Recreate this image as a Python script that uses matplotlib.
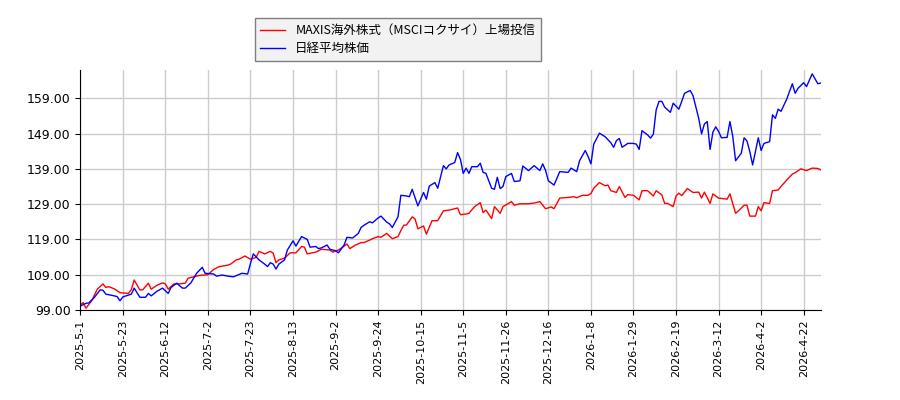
import matplotlib
matplotlib.use("Agg")
import matplotlib.pyplot as plt

plt.rcParams['font.family'] = ['Noto Sans CJK JP', 'DejaVu Sans']

# trading-day index on x
tick_labels = ["2025-5-1", "2025-5-23", "2025-6-12", "2025-7-2", "2025-7-23",
               "2025-8-13", "2025-9-2", "2025-9-24", "2025-10-15", "2025-11-5",
               "2025-11-26", "2025-12-16", "2026-1-8", "2026-1-29", "2026-2-19",
               "2026-3-12", "2026-4-2", "2026-4-22"]
tick_step = 15
yticks = [99, 109, 119, 129, 139, 149, 159]

maxis_x = [0, 1, 2, 4, 6, 8, 9, 10, 12, 14, 17, 18, 19, 21, 22, 24, 25, 27, 29, 30,
           31, 33, 35, 37, 38, 40, 42, 45, 47, 49, 52, 53, 55, 56, 58, 60, 62, 63, 65, 67,
           68, 69, 70, 72, 74, 76, 78, 79, 80, 83, 85, 88, 89, 91, 93, 94, 95, 97, 99, 100,
           102, 103, 105, 106, 108, 110, 112, 113, 114, 115, 117, 118, 119, 121, 122, 124, 126, 128, 130, 133,
           134, 136, 137, 139, 141, 142, 143, 145, 146, 148, 149, 152, 153, 155, 158, 160, 162, 164, 166, 167,
           169, 172, 174, 175, 177, 179, 180, 181, 183, 185, 186, 187, 189, 190, 192, 193, 195, 197, 198, 200,
           202, 203, 205, 206, 207, 209, 210, 211, 212, 214, 216, 218, 219, 220, 222, 223, 225, 228, 229, 231,
           232, 234, 235, 236, 238, 239, 240, 241, 243, 244, 246, 247, 249, 251, 252, 254, 256, 258, 260, 261]
maxis_y = [100.4, 101.1, 99.5, 101.6, 104.9, 106.4, 105.4, 105.6, 105.0, 103.9,
           103.7, 104.8, 107.5, 104.7, 104.7, 106.6, 104.9, 106.0, 106.7, 106.4,
           104.9, 106.4, 106.4, 106.6, 108.0, 108.4, 108.8, 109.0, 110.5, 111.3,
           111.7, 112.0, 113.2, 113.4, 114.3, 113.4, 113.9, 115.6, 114.9, 115.6,
           115.1, 112.4, 113.2, 113.7, 115.2, 115.2, 117.0, 116.8, 114.9, 115.4,
           116.2, 116.0, 115.4, 116.0, 117.1, 117.7, 116.4, 117.4, 118.1, 118.1,
           118.8, 119.2, 119.8, 119.6, 120.7, 119.2, 119.8, 121.5, 123.0, 123.1,
           125.4, 124.8, 122.0, 122.8, 120.5, 124.3, 124.3, 127.1, 127.3, 127.9,
           126.0, 126.2, 126.4, 128.3, 129.4, 126.6, 127.3, 124.9, 128.3, 126.4,
           128.3, 129.7, 128.7, 129.1, 129.1, 129.3, 129.7, 127.7, 128.2, 127.7,
           130.7, 130.9, 131.1, 130.8, 131.5, 131.5, 132.0, 133.5, 135.1, 134.2,
           134.4, 132.8, 132.3, 134.0, 130.9, 131.7, 131.5, 130.2, 132.8, 132.8,
           131.3, 132.8, 131.6, 129.2, 129.2, 128.3, 131.3, 132.1, 131.4, 133.4,
           132.3, 132.4, 130.7, 132.4, 129.2, 131.9, 130.7, 130.4, 131.9, 126.4,
           127.1, 128.7, 128.7, 125.6, 125.6, 128.3, 127.1, 129.4, 129.2, 132.8,
           133.0, 134.0, 135.8, 137.5, 137.9, 139.0, 138.5, 139.2, 139.1, 138.7]

nikkei_x = [0, 2, 3, 5, 7, 8, 9, 12, 13, 14, 15, 18, 19, 21, 23, 24, 25, 27, 29, 31,
            32, 34, 36, 37, 39, 41, 43, 44, 47, 48, 50, 52, 54, 57, 59, 60, 61, 63, 65, 66,
            67, 68, 69, 70, 72, 73, 75, 76, 78, 80, 81, 83, 84, 85, 87, 88, 90, 91, 93, 94,
            96, 98, 99, 100, 102, 103, 105, 106, 108, 109, 110, 112, 113, 115, 116, 117, 119, 121, 122, 123,
            125, 126, 128, 129, 130, 132, 133, 134, 135, 136, 137, 138, 140, 141, 142, 143, 145, 146, 147, 148,
            149, 150, 152, 153, 155, 156, 158, 160, 162, 163, 164, 165, 167, 169, 172, 173, 175, 176, 178, 179,
            180, 181, 183, 185, 187, 188, 189, 190, 191, 193, 195, 196, 197, 198, 200, 201, 202, 203, 204, 205,
            206, 208, 209, 211, 212, 213, 215, 216, 218, 219, 220, 221, 222, 223, 224, 225, 226, 228, 229, 230,
            231, 233, 234, 235, 236, 237, 239, 240, 241, 243, 244, 245, 246, 247, 249, 251, 252, 253, 255, 256,
            258, 260, 261]
nikkei_y = [100.1, 100.9, 101.0, 102.6, 104.7, 104.6, 103.5, 103.0, 102.8, 101.6,
            102.7, 103.5, 105.2, 102.6, 102.6, 103.7, 103.0, 104.3, 105.2, 103.7,
            105.4, 106.6, 105.2, 105.2, 106.7, 109.4, 111.1, 109.4, 109.2, 108.6,
            108.9, 108.6, 108.4, 109.4, 109.2, 112.2, 114.9, 113.2, 112.0, 111.3,
            112.4, 112.0, 110.6, 112.0, 113.2, 116.0, 118.6, 117.1, 119.8, 119.0,
            116.8, 117.0, 116.4, 116.6, 117.4, 116.2, 115.8, 115.2, 117.4, 119.6,
            119.4, 120.7, 122.4, 123.0, 124.0, 123.7, 125.1, 125.6, 123.9, 123.4,
            122.4, 125.4, 131.5, 131.3, 131.1, 133.2, 128.5, 132.3, 130.4, 134.1,
            135.1, 133.5, 139.9, 139.0, 140.1, 140.8, 143.6, 141.7, 137.7, 139.2,
            137.7, 139.6, 139.6, 140.6, 138.0, 137.7, 133.5, 133.2, 136.6, 133.4,
            134.0, 136.8, 137.7, 135.4, 135.6, 139.8, 138.5, 139.9, 138.5, 140.4,
            138.6, 135.6, 134.4, 138.2, 138.0, 139.2, 138.2, 141.3, 144.2, 142.5,
            140.4, 146.0, 149.1, 148.1, 146.4, 145.1, 147.0, 147.6, 145.1, 146.2,
            146.2, 146.0, 144.5, 149.8, 148.6, 147.7, 148.8, 155.7, 158.1, 158.1,
            156.5, 155.0, 157.6, 155.9, 158.1, 160.4, 161.2, 159.7, 153.3, 148.9,
            151.7, 152.4, 144.5, 149.4, 150.9, 149.6, 147.8, 147.9, 152.4, 148.2,
            141.3, 143.4, 147.8, 146.9, 143.9, 140.1, 147.8, 144.2, 146.2, 146.7,
            154.3, 153.3, 155.9, 155.3, 158.7, 163.1, 160.4, 161.8, 163.4, 162.3,
            165.9, 163.1, 163.3]

fig = plt.figure(figsize=(9, 4), dpi=100)
ax = fig.add_axes([0.0892, 0.225, 0.8227, 0.6])

ax.plot(maxis_x, maxis_y, color='red', lw=1, label='MAXIS海外株式（MSCIコクサイ）上場投信')
ax.plot(nikkei_x, nikkei_y, color='blue', lw=1, label='日経平均株価')

ax.set_xlim(0, 261)
ax.set_ylim(99, 167)
ax.set_xticks([i * tick_step for i in range(len(tick_labels))])
ax.set_xticklabels(tick_labels, rotation=90, fontsize=8, family='DejaVu Sans')
ax.set_yticks(yticks)
ax.set_yticklabels(['%.2f' % v for v in yticks], fontsize=9, family='DejaVu Sans')
ax.grid(True, color='#cccccc', lw=1)
ax.set_axisbelow(True)
for s in ('top', 'right'):
    ax.spines[s].set_visible(False)

leg = fig.legend(loc='upper center', bbox_to_anchor=(0.442, 0.97), fontsize=9,
                 fancybox=False, edgecolor='#808080', facecolor='#f2f2f2', framealpha=1,
                 handlelength=2, borderpad=0.45, labelspacing=0.4)
leg.get_frame().set_linewidth(1)

fig.savefig('out.png')
